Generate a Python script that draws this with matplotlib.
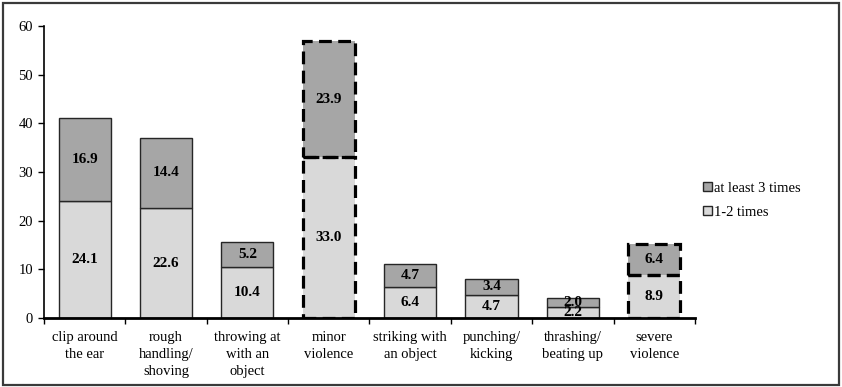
import numpy as np
import matplotlib.pyplot as plt
from matplotlib.patches import Rectangle

plt.rcParams['font.family'] = ['Liberation Serif', 'DejaVu Serif']

categories = ['clip around\nthe ear', 'rough\nhandling/\nshoving', 'throwing at\nwith an\nobject',
              'minor\nviolence', 'striking with\nan object', 'punching/\nkicking',
              'thrashing/\nbeating up', 'severe\nviolence']
once_twice = [24.1, 22.6, 10.4, 33.0, 6.4, 4.7, 2.2, 8.9]
three_plus = [16.9, 14.4, 5.2, 23.9, 4.7, 3.4, 2.0, 6.4]
summary_bars = ['minor\nviolence', 'severe\nviolence']

light = '#d9d9d9'
dark = '#a6a6a6'

fig = plt.figure(figsize=(8.42, 3.87), dpi=100)
ax = fig.add_axes([0.0523, 0.178, 0.773, 0.755])

x = np.arange(len(categories))
width = 0.64
lo = np.array(once_twice)
hi = np.array(three_plus)
is_sum = np.array([c in summary_bars for c in categories])

edges = ['none' if s else '#262626' for s in is_sum]
b1 = ax.bar(x, lo, width, color=light, edgecolor=edges, linewidth=1.0, label='1-2 times')
b2 = ax.bar(x, hi, width, bottom=lo, color=dark, edgecolor=edges, linewidth=1.0,
            label='at least 3 times')

# dashed frames around the summary categories
dash = (0, (4, 2))
ax.bar(x[is_sum], lo[is_sum], width, fill=False, edgecolor='black', linewidth=2.3,
       linestyle=dash, zorder=3)
ax.bar(x[is_sum], hi[is_sum], width, bottom=lo[is_sum], fill=False, edgecolor='black',
       linewidth=2.3, linestyle=dash, zorder=3)

for i in range(len(categories)):
    ax.text(x[i], lo[i] / 2, f'{lo[i]:.1f}', ha='center', va='center',
            fontsize=11, fontweight='bold', zorder=4)
    ax.text(x[i], lo[i] + hi[i] / 2, f'{hi[i]:.1f}', ha='center', va='center',
            fontsize=11, fontweight='bold', zorder=4)

ax.set_xlim(-0.5, len(categories) - 0.5)
ax.set_ylim(0, 60)
ax.set_yticks(range(0, 61, 10))
ax.set_xticks(x)
ax.set_xticklabels(categories, fontsize=10.5, linespacing=1.4)
ax.set_xticks(np.arange(-0.5, len(categories)), minor=True)
ax.tick_params(axis='x', which='major', length=0, pad=9)
ax.tick_params(axis='x', which='minor', length=4, width=1, direction='out')
ax.tick_params(axis='y', length=4, width=1, direction='out', labelsize=10.5, pad=4)

for side in ['top', 'right']:
    ax.spines[side].set_visible(False)
ax.spines['bottom'].set_linewidth(2)
ax.spines['left'].set_linewidth(1.2)

fig.legend([b2, b1], ['at least 3 times', '1-2 times'], loc='upper left',
           bbox_to_anchor=(0.828, 0.545), frameon=False, fontsize=10.5,
           handlelength=0.6, handleheight=0.6, handletextpad=0.15, labelspacing=0.75,
           borderaxespad=0)

# outer frame of the figure
fig.patches.append(Rectangle((0.003, 0.006), 0.993, 0.987, transform=fig.transFigure,
                             fill=False, edgecolor='#3a3a3a', linewidth=1.6))

fig.savefig('out.png', dpi=100)
